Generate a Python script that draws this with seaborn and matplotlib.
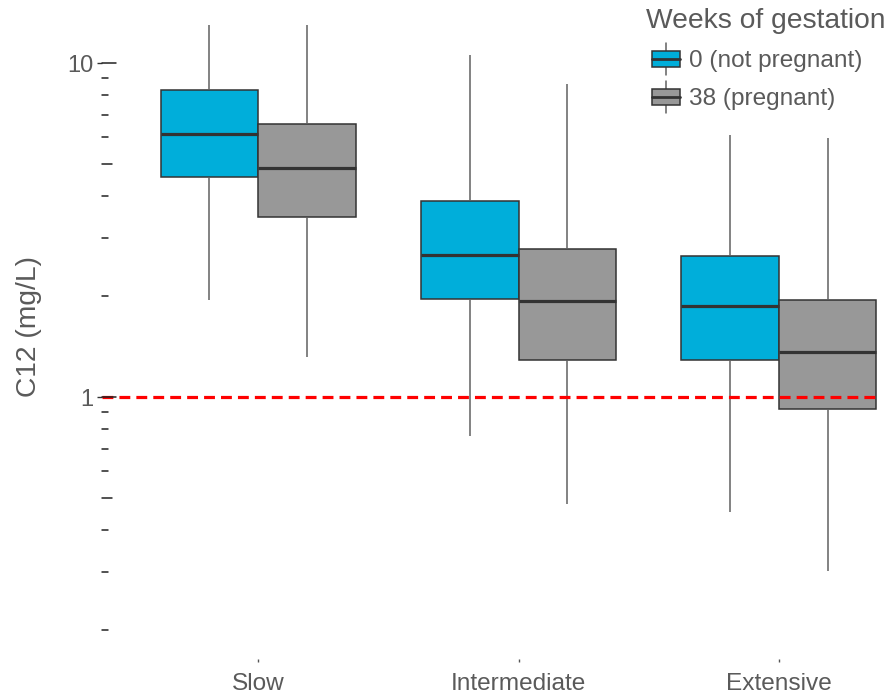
import numpy as np
import pandas as pd
import matplotlib
matplotlib.use("Agg")
import matplotlib.pyplot as plt
import matplotlib.transforms as mtransforms
from matplotlib.lines import Line2D
from matplotlib.patches import Rectangle, Patch
from matplotlib.legend_handler import HandlerBase
import seaborn as sns

# ---- data: five-number summaries of C12 concentration (mg/L) ----
phenotypes = ["Slow", "Intermediate", "Extensive"]
weeks = ["0 (not pregnant)", "38 (pregnant)"]

low_0 = [1.95, 0.764, 0.452]
q1_0 = [4.56, 1.97, 1.29]
med_0 = [6.13, 2.66, 1.87]
q3_0 = [8.30, 3.86, 2.64]
high_0 = [13.0, 10.6, 6.09]

low_38 = [1.32, 0.478, 0.301]
q1_38 = [3.46, 1.29, 0.92]
med_38 = [4.85, 1.94, 1.36]
q3_38 = [6.57, 2.77, 1.95]
high_38 = [13.0, 8.65, 5.96]

threshold = 1.0
decade_ticks = [1, 10]
minor_ticks = [0.2, 0.3, 0.4, 0.5, 0.6, 0.7, 0.8, 0.9, 2, 3, 4, 5, 6, 7, 8, 9]

palette = ["#00AEDA", "#989898"]
text_col = "#5a5a5a"

# five values per group reproduce the quartiles exactly; whiskers span min..max
rows = []
summaries = {weeks[0]: (low_0, q1_0, med_0, q3_0, high_0),
             weeks[1]: (low_38, q1_38, med_38, q3_38, high_38)}
for wk, stats in summaries.items():
    for i, ph in enumerate(phenotypes):
        for s in stats:
            rows.append({"Metabolizer": ph, "Weeks of gestation": wk, "C12": s[i]})
df = pd.DataFrame(rows)

sns.set_style("white")
plt.rcParams["font.family"] = ["Liberation Sans", "DejaVu Sans"]

W, H, DPI = 893, 694, 100
fig = plt.figure(figsize=(W / DPI, H / DPI), dpi=DPI)
ax_left, ax_right, ax_bottom, ax_top = 102, 935, 659, 0
ax = fig.add_axes([ax_left / W, 1 - ax_bottom / H,
                   (ax_right - ax_left) / W, (ax_bottom - ax_top) / H])

sns.boxplot(data=df, x="Metabolizer", y="C12", hue="Weeks of gestation",
            order=phenotypes, hue_order=weeks, palette=palette,
            log_scale=True, whis=(0, 100), showfliers=False, showcaps=False,
            width=0.75, gap=0, saturation=1, linecolor="#333333", linewidth=1.1,
            whiskerprops=dict(color="#606060", linewidth=1.1),
            medianprops=dict(color="#333333", linewidth=2.3),
            legend=False, ax=ax)

ax_w_px = ax_right - ax_left
ax.axhline(threshold, xmax=(880 - ax_left) / ax_w_px, color="#FF0000",
           linewidth=2.3, dashes=(3.4, 1.9), zorder=5)

ax.set_xlim(-0.6, 2.6)
ax.set_ylim(10 ** ((397 - 659) / 334), 10 ** (397 / 334))
for sp in ax.spines.values():
    sp.set_visible(False)

ax.set_xlabel("")
ax.set_ylabel("")
ax.yaxis.set_major_locator(matplotlib.ticker.FixedLocator(decade_ticks))
ax.yaxis.set_major_formatter(matplotlib.ticker.FuncFormatter(lambda v, p: f"{v:g}"))
ax.yaxis.set_minor_locator(matplotlib.ticker.NullLocator())
ax.tick_params(axis="y", which="major", direction="out", length=3.6, width=1.0,
               color="#333333", pad=2.8, labelsize=17, labelcolor=text_col)
ax.tick_params(axis="x", direction="out", length=2.2, width=1.0, color="#555555",
               pad=7.8, labelsize=17.6, labelcolor=text_col)
ax.tick_params(left=True, bottom=True)

# log ticks drawn inside the panel along the left edge
trans = mtransforms.blended_transform_factory(ax.transAxes, ax.transData)
for v in decade_ticks:
    ax.add_line(Line2D([0, 14 / ax_w_px], [v, v], transform=trans, color="#222222",
                       linewidth=1.1, zorder=6, clip_on=False))
for v in minor_ticks:
    ln = 10 if v in (0.5, 5) else 6
    ax.add_line(Line2D([0, ln / ax_w_px], [v, v], transform=trans, color="#222222",
                       linewidth=1.1, zorder=6, clip_on=False))

fig.text(29 / W, 1 - 327 / H, "C12 (mg/L)", rotation=90, ha="center", va="center",
         fontsize=20.3, color=text_col)


class BoxHandler(HandlerBase):
    def create_artists(self, legend, orig_handle, xdescent, ydescent, width, height,
                       fontsize, trans):
        face = orig_handle.get_facecolor()
        x0, y0 = -xdescent, -ydescent
        cx = x0 + width / 2
        box_h = height * 0.5
        by = y0 + (height - box_h) / 2
        whisk = Line2D([cx, cx], [y0, y0 + height], color="#606060", linewidth=1.1,
                       transform=trans)
        rect = Rectangle((x0, by), width, box_h, facecolor=face, edgecolor="#333333",
                         linewidth=1.1, transform=trans)
        med = Line2D([x0, x0 + width], [by + box_h / 2] * 2, color="#333333",
                     linewidth=2.0, transform=trans)
        return [whisk, rect, med]


# legend title and entries
fig.text(646 / W, 1 - 21 / H, "Weeks of gestation", ha="left", va="center",
         fontsize=20.3, color=text_col)
handles = [Patch(facecolor=c) for c in palette]
leg = fig.legend(handles, weeks, loc="upper left",
                 bbox_to_anchor=(652 / W, 1 - 43 / H), bbox_transform=fig.transFigure,
                 frameon=False, borderpad=0, borderaxespad=0, fontsize=17.6,
                 handlelength=1.15, handleheight=1.63, handletextpad=0.37,
                 labelspacing=0.25, handler_map={Patch: BoxHandler()})
for t in leg.get_texts():
    t.set_color(text_col)

fig.savefig("out.png", dpi=DPI)
